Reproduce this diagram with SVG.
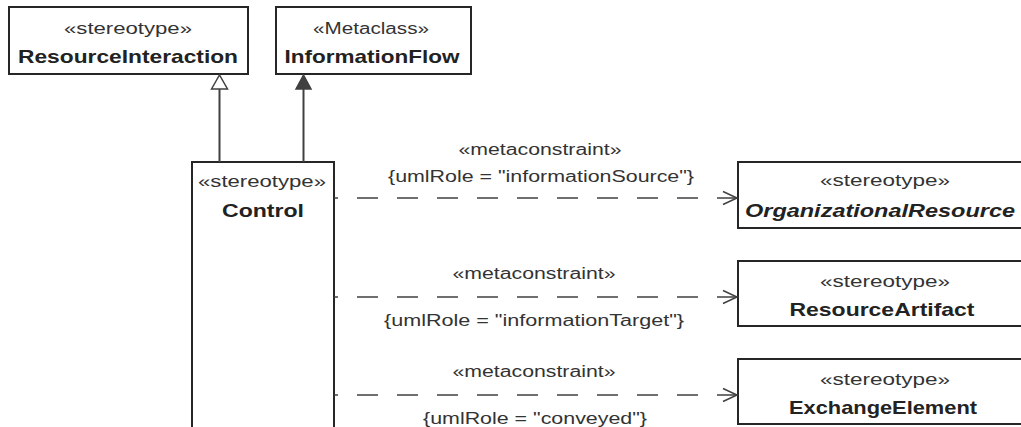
<svg xmlns="http://www.w3.org/2000/svg" width="1021" height="427" viewBox="0 0 1021 427">
<defs>
<style>
.box{fill:#fff;stroke:#262626;stroke-width:2}
.st{font-family:"Liberation Sans",Arial,sans-serif;font-size:16px;fill:#333;text-anchor:middle}
.nm{font-family:"Liberation Sans",Arial,sans-serif;font-size:18.5px;font-weight:bold;fill:#222;text-anchor:middle}
.it{font-style:italic}
.edge{stroke:#404040;stroke-width:2;fill:none}
.dash{stroke:#404040;stroke-width:1.5;fill:none;stroke-dasharray:21 19;stroke-dashoffset:17}
</style>
<marker id="gen" markerUnits="userSpaceOnUse" markerWidth="18" markerHeight="18" refX="0" refY="8" orient="auto" overflow="visible">
<path d="M0,0 L14,8 L0,16 Z" fill="#fff" stroke="#404040" stroke-width="1.5"/>
</marker>
<marker id="ext" markerUnits="userSpaceOnUse" markerWidth="18" markerHeight="18" refX="0" refY="8" orient="auto" overflow="visible">
<path d="M0,0.5 L14,8 L0,15.5 Z" fill="#404040" stroke="#404040" stroke-width="1.5"/>
</marker>
<marker id="dep" markerUnits="userSpaceOnUse" markerWidth="18" markerHeight="18" refX="14" refY="7" orient="auto" overflow="visible">
<path d="M0,0.5 L14,7 L0,13.5" fill="none" stroke="#404040" stroke-width="1.5"/>
</marker>
</defs>
<rect width="1021" height="427" fill="#fff"/>

<g id="ResourceInteraction">
<rect class="box" x="9" y="7" width="239" height="67"/>
<text class="st" x="128" y="34" textLength="128" lengthAdjust="spacingAndGlyphs">«stereotype»</text>
<text class="nm" x="128" y="63" textLength="220" lengthAdjust="spacingAndGlyphs">ResourceInteraction</text>
</g>

<g id="InformationFlow">
<rect class="box" x="276" y="7" width="195" height="67"/>
<text class="st" x="371" y="34" textLength="116" lengthAdjust="spacingAndGlyphs">«Metaclass»</text>
<text class="nm" x="372" y="63" textLength="175" lengthAdjust="spacingAndGlyphs">InformationFlow</text>
</g>

<g id="Control">
<rect class="box" x="192" y="162" width="142" height="300"/>
<text class="st" x="262" y="187" textLength="128" lengthAdjust="spacingAndGlyphs">«stereotype»</text>
<text class="nm" x="263" y="217" textLength="82" lengthAdjust="spacingAndGlyphs">Control</text>
</g>

<g id="OrganizationalResource">
<rect class="box" x="738" y="162" width="300" height="66"/>
<text class="st" x="885" y="186" textLength="130" lengthAdjust="spacingAndGlyphs">«stereotype»</text>
<text class="nm it" x="880" y="217" textLength="270" lengthAdjust="spacingAndGlyphs">OrganizationalResource</text>
</g>

<g id="ResourceArtifact">
<rect class="box" x="738" y="261" width="300" height="65"/>
<text class="st" x="885" y="287" textLength="130" lengthAdjust="spacingAndGlyphs">«stereotype»</text>
<text class="nm" x="882" y="316" textLength="185" lengthAdjust="spacingAndGlyphs">ResourceArtifact</text>
</g>

<g id="ExchangeElement">
<rect class="box" x="738" y="359" width="300" height="65"/>
<text class="st" x="885" y="385" textLength="130" lengthAdjust="spacingAndGlyphs">«stereotype»</text>
<text class="nm" x="883" y="414" textLength="188" lengthAdjust="spacingAndGlyphs">ExchangeElement</text>
</g>

<g id="connectors">
<path class="edge" d="M219.5,162 V89" marker-end="url(#gen)"/>
<path class="edge" d="M303.5,162 V89" marker-end="url(#ext)"/>

<path class="dash" d="M334,198 H737" marker-end="url(#dep)"/>
<text class="st" x="540" y="155" textLength="163" lengthAdjust="spacingAndGlyphs">«metaconstraint»</text>
<text class="st" x="541" y="182" textLength="306" lengthAdjust="spacingAndGlyphs">{umlRole = "informationSource"}</text>

<path class="dash" d="M334,297 H737" marker-end="url(#dep)"/>
<text class="st" x="534" y="279" textLength="163" lengthAdjust="spacingAndGlyphs">«metaconstraint»</text>
<text class="st" x="534" y="326" textLength="300" lengthAdjust="spacingAndGlyphs">{umlRole = "informationTarget"}</text>

<path class="dash" d="M334,395 H737" marker-end="url(#dep)"/>
<text class="st" x="534" y="377" textLength="163" lengthAdjust="spacingAndGlyphs">«metaconstraint»</text>
<text class="st" x="535" y="424" textLength="224" lengthAdjust="spacingAndGlyphs">{umlRole = "conveyed"}</text>
</g>
</svg>
